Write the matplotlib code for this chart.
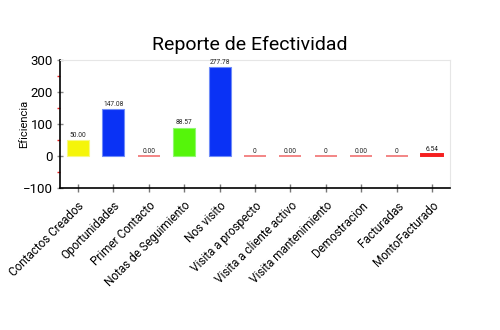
import matplotlib
matplotlib.use("Agg")
import matplotlib.pyplot as plt
from matplotlib.ticker import MultipleLocator

categories = ["Contactos Creados", "Oportunidades", "Primer Contacto", "Notas de Seguimiento",
              "Nos visito", "Visita a prospecto", "Visita a cliente activo",
              "Visita mantenimiento", "Demostracion", "Facturadas", "MontoFacturado"]
values = [50.00, 147.08, 0.00, 88.57, 277.78, 0, 0.00, 0, 0.00, 0, 6.54]
labels = ["50.00", "147.08", "0.00", "88.57", "277.78", "0", "0.00", "0", "0.00", "0", "6.54"]
colors = ["#f5f50a", "#0a32f5", "#f38585", "#55f50a", "#0a32f5", "#f38585",
          "#f38585", "#f38585", "#f38585", "#f38585", "#f50a0a"]
edges = ["#f8f880", "#6f8cf8", "#f38585", "#90f870", "#6f8cf8", "#f38585",
         "#f38585", "#f38585", "#f38585", "#f38585", "#f52020"]

plt.rcParams["font.family"] = ["Roboto", "DejaVu Sans"]

fig = plt.figure(figsize=(5, 3.3), dpi=100)
ax = fig.add_axes([0.12, 0.43, 0.78, 0.388])

x = list(range(len(categories)))
# flat bars get a thicker outline so they read as a line on the baseline
widths = [0.8 if v > 20 else 1.4 for v in values]
ax.bar(x, values, width=0.62, color=colors, edgecolor=edges, linewidth=widths, zorder=2)
for xi, v, lab in zip(x, values, labels):
    ax.text(xi, v + 4, lab, ha="center", va="bottom", fontsize=4.8, color="#222222")

ax.set_xlim(-0.5, len(categories) - 0.5)
ax.set_ylim(-100, 300)
ax.yaxis.set_major_locator(MultipleLocator(100))
ax.yaxis.set_minor_locator(MultipleLocator(50))
ax.tick_params(axis="y", which="major", direction="inout", length=4, width=1,
               color="#888888", labelsize=9.5, pad=3)
ax.tick_params(axis="y", which="minor", direction="out", length=2.5, width=1, color="#ee2222")
ax.tick_params(axis="x", which="major", direction="inout", length=6, width=1,
               color="#777777", labelsize=8.5, pad=5)
ax.set_xticks(x)
ax.set_xticklabels(categories, rotation=45, ha="right", rotation_mode="anchor")

for side in ("top", "right"):
    ax.spines[side].set_color("#e6e6e6")
for side in ("left", "bottom"):
    ax.spines[side].set_color("black")
    ax.spines[side].set_linewidth(1.2)

ax.set_ylabel("Eficiencia", fontsize=8)
ax.yaxis.set_label_coords(-0.078, 0.5)
fig.text(0.5, 0.865, "Reporte de Efectividad", ha="center", va="center", fontsize=14)

fig.savefig("out.png", dpi=100)
